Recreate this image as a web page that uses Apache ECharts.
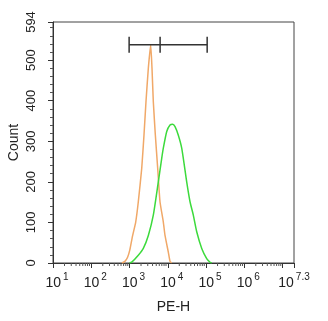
<!DOCTYPE html>
<html><head><meta charset="utf-8">
<script src="https://cdn.jsdelivr.net/npm/echarts@6/dist/echarts.min.js"></script>
<style>html,body{margin:0;padding:0;background:#fff}#c{width:328px;height:321px}</style>
</head><body><div id="c"></div>
<script>
// log10 of PE-H value, count
const orangeX = [2.80, 2.88, 2.95, 3.01, 3.073, 3.162, 3.23, 3.319, 3.379, 3.431, 3.492, 3.554, 3.588, 3.622, 3.675, 3.737, 3.797, 3.884, 3.928, 4.014, 4.059, 4.10];
const orangeY = [0, 4, 14, 33, 64, 101, 151, 233, 316, 398, 480, 538, 480, 398, 316, 233, 151, 101, 68, 27, 4, 0];
const greenX = [3.0, 3.058, 3.23, 3.361, 3.492, 3.622, 3.753, 3.842, 3.884, 3.973, 4.059, 4.129, 4.19, 4.276, 4.365, 4.495, 4.582, 4.668, 4.757, 4.888, 5.018, 5.105, 5.15];
const greenY = [0, 2, 19, 36, 68, 118, 200, 258, 283, 324, 340, 342, 336, 315, 283, 200, 151, 118, 77, 36, 11, 2, 0];
const gateX = [2.99, 3.80, 5.03];
const gateY = 538;
const xMajor = [1, 2, 3, 4, 5, 6, 7];
const xMax = 7.3;
const yMax = 594;

const minorX = [];
xMajor.forEach(function (d) {
  for (let k = 2; k <= 9; k++) {
    const v = d + Math.log10(k);
    if (v < xMax) minorX.push([v, 0]);
  }
});

const font = 'Liberation Sans, Arial, sans-serif';
const chart = echarts.init(document.getElementById('c'));
chart.setOption({
  animation: false,
  grid: { left: 53, right: 34, top: 22, bottom: 58, show: true, borderColor: '#444', borderWidth: 1, outerBoundsMode: 'none', containLabel: false },
  xAxis: {
    type: 'value', min: 1, max: xMax, interval: 1,
    name: 'PE-H', nameLocation: 'middle', nameGap: 37, nameMoveOverlap: false,
    nameTextStyle: { fontSize: 14, color: '#222', fontFamily: font },
    axisLine: { show: true, lineStyle: { color: '#333', width: 1 } },
    axisTick: { show: true, length: 5, lineStyle: { color: '#333', width: 1 } },
    splitLine: { show: false },
    axisLabel: {
      margin: 9, color: '#222', fontFamily: font,
      formatter: function (v) {
        if (Math.abs(v - 7) < 1e-6) return '';
        if (Math.abs(v - xMax) < 1e-6) return '{b|10}{s|7.3}';
        return '{p|}{b|10}{s|' + Math.round(v) + '}';
      },
      rich: {
        p: { width: 8, fontSize: 14 },
        b: { fontSize: 14, fontFamily: font, color: '#222', lineHeight: 18, verticalAlign: 'bottom' },
        s: { fontSize: 10, fontFamily: font, color: '#222', padding: [0, 0, 0, 2], verticalAlign: 'top', lineHeight: 14 }
      }
    }
  },
  yAxis: {
    type: 'value', min: 0, max: yMax, interval: 100,
    name: 'Count', nameLocation: 'middle', nameGap: 32, nameRotate: 90, nameMoveOverlap: false,
    nameTextStyle: { fontSize: 14, color: '#222', fontFamily: font },
    axisLine: { show: true, lineStyle: { color: '#333', width: 1 } },
    axisTick: { show: true, length: 5, lineStyle: { color: '#333' } },
    minorTick: { show: true, splitNumber: 5, length: 3, lineStyle: { color: '#555' } },
    splitLine: { show: false },
    axisLabel: { rotate: 90, margin: 15, fontSize: 13, color: '#222', fontFamily: font }
  },
  series: [
    {
      type: 'line', data: orangeX.map(function (x, i) { return [x, orangeY[i]]; }),
      showSymbol: false, smooth: 0.15, lineStyle: { color: '#F0A868', width: 1.5 }, z: 3
    },
    {
      type: 'line', data: greenX.map(function (x, i) { return [x, greenY[i]]; }),
      showSymbol: false, smooth: 0.2, lineStyle: { color: '#3CDA3C', width: 1.5 }, z: 3
    },
    {
      type: 'custom', clip: false, silent: true, z: 2,
      data: minorX,
      renderItem: function (params, api) {
        const p = api.coord([api.value(0), 0]);
        return { type: 'line', shape: { x1: p[0], y1: p[1], x2: p[0], y2: p[1] + 3 }, style: { stroke: '#555', lineWidth: 1 } };
      }
    },
    {
      type: 'custom', clip: false, silent: true, z: 4,
      data: [[gateX[0], gateX[1], gateX[2], gateY]],
      renderItem: function (params, api) {
        const y = api.value(3);
        const a = api.coord([api.value(0), y]);
        const b = api.coord([api.value(1), y]);
        const c = api.coord([api.value(2), y]);
        const st = { stroke: '#333', lineWidth: 1.5 };
        return {
          type: 'group', children: [
            { type: 'line', shape: { x1: a[0], y1: a[1], x2: c[0], y2: c[1] }, style: st },
            { type: 'line', shape: { x1: a[0], y1: a[1] - 8, x2: a[0], y2: a[1] + 8 }, style: st },
            { type: 'line', shape: { x1: b[0], y1: b[1] - 8, x2: b[0], y2: b[1] + 8 }, style: st },
            { type: 'line', shape: { x1: c[0], y1: c[1] - 8, x2: c[0], y2: c[1] + 8 }, style: st }
          ]
        };
      }
    }
  ]
});
</script></body></html>
